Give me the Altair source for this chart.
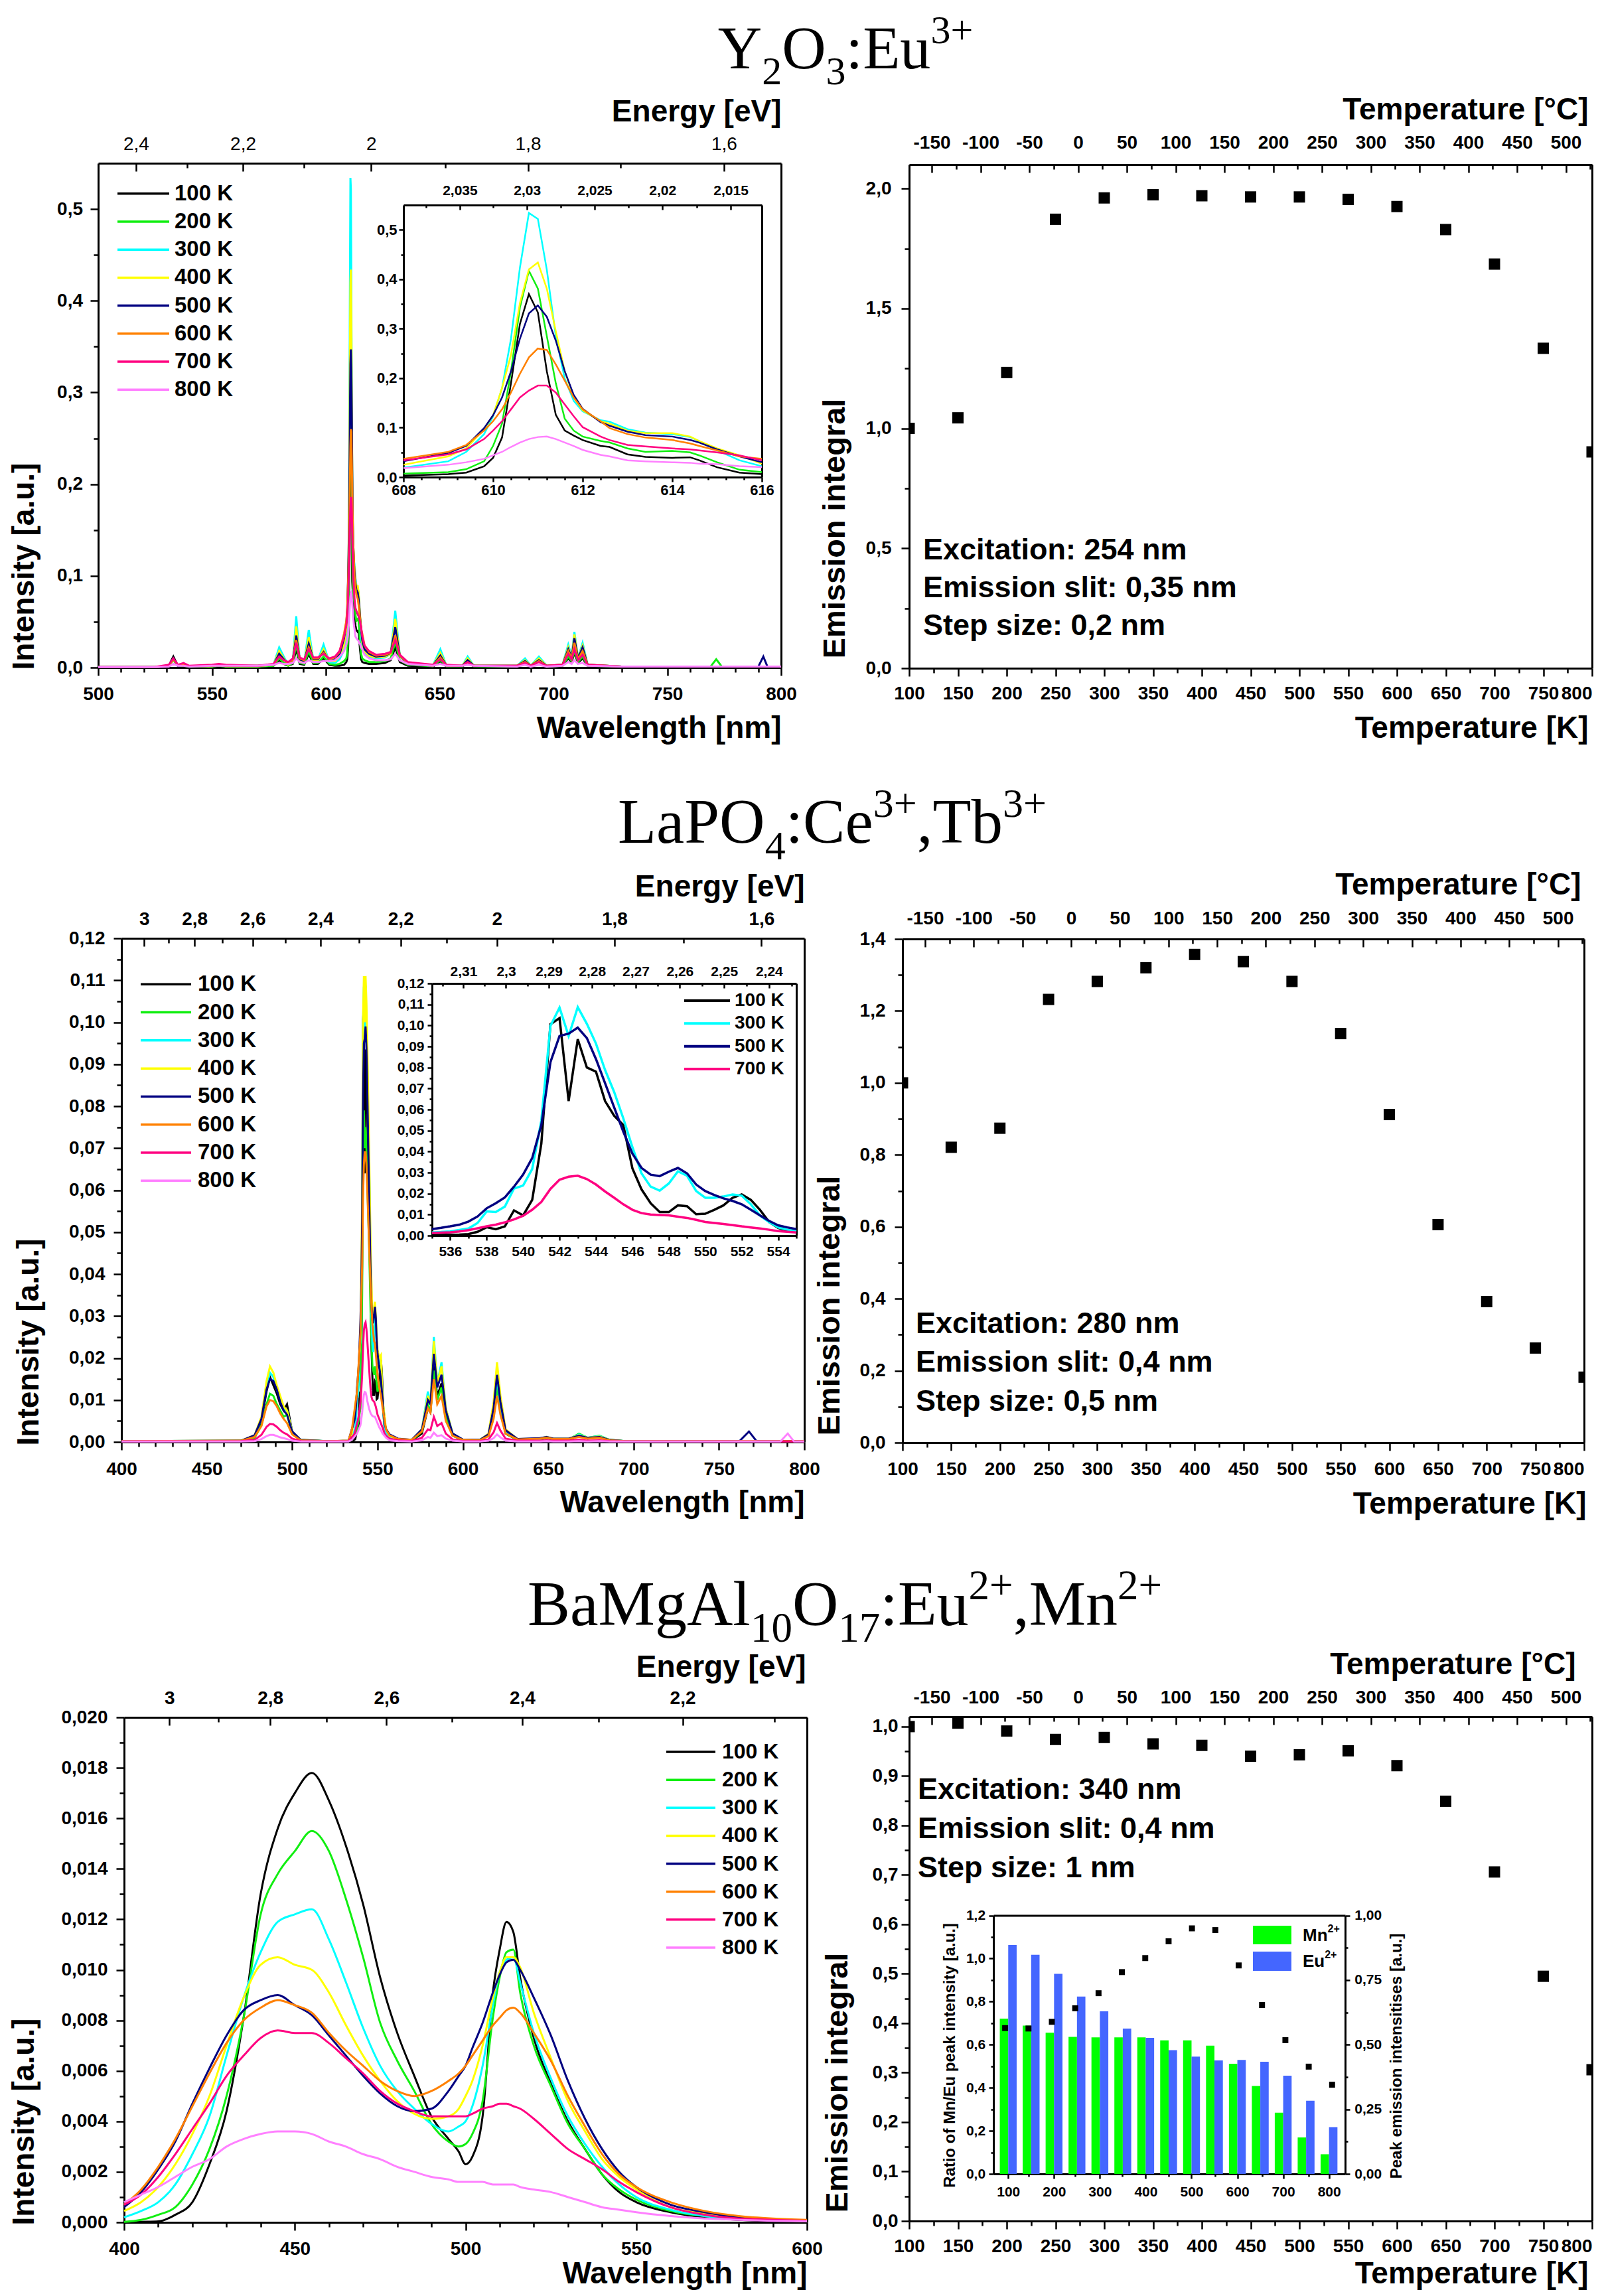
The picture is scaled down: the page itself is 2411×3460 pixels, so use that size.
import altair as alt
import pandas as pd

W, H = 2395, 3444
SANS = "Liberation Sans"
SERIF = "Liberation Serif"
HC = 1239.84
COMMA = "replace(datum.label, '.', ',')"

TEMPS = ["100 K", "200 K", "300 K", "400 K", "500 K", "600 K", "700 K", "800 K"]
COLORS = ["#000000", "#11ee11", "#00ffff", "#ffff00", "#000080", "#ff8000", "#ff0080", "#ff80ff"]
KELVIN = [100, 150, 200, 250, 300, 350, 400, 450, 500, 550, 600, 650, 700, 750, 800]

# ---------------- Y2O3:Eu3+ spectra ----------------
P1_WL_LEFT = [500, 525, 531, 533, 535, 537.5, 540, 550, 553, 556, 570, 577, 579.5, 581.5, 583.5, 585.5,
              587, 588.5, 590.5, 592.5, 594.5, 596.5, 599, 601.5, 604, 606]
P1_WL_INSET = [608, 609, 609.4, 609.8, 610, 610.2, 610.4, 610.6, 610.8, 611.0, 611.2, 611.4, 611.6, 611.8,
               612, 612.4, 612.6, 613, 613.4, 614, 614.4, 614.6, 615, 615.5, 616]
P1_WL_RIGHT = [617, 619, 622, 626, 628.5, 630.5, 632.5, 636, 647, 650.3, 653, 660, 662.3, 665, 684, 687.5,
               690, 693.6, 697, 704, 706.5, 708, 709.2, 710.8, 712.8, 715, 730, 769, 771.5, 774, 790, 792.2,
               794, 800]
P1_LEFT = {
    "100 K": [0.0005, 0.0005, 0.002, 0.012, 0.002, 0.002, 0.0008, 0.001, 0.002, 0.001, 0.001, 0.002, 0.008, 0.004, 0.002, 0.004, 0.020, 0.004, 0.003, 0.015, 0.004, 0.004, 0.010, 0.003, 0.002, 0.002],
    "200 K": [0.0005, 0.0005, 0.002, 0.008, 0.002, 0.002, 0.0008, 0.001, 0.002, 0.001, 0.001, 0.002, 0.010, 0.005, 0.002, 0.005, 0.025, 0.005, 0.004, 0.018, 0.005, 0.005, 0.012, 0.004, 0.003, 0.004],
    "300 K": [0.0005, 0.0005, 0.002, 0.009, 0.002, 0.003, 0.001, 0.0015, 0.003, 0.0015, 0.0015, 0.003, 0.022, 0.012, 0.003, 0.007, 0.056, 0.008, 0.006, 0.041, 0.008, 0.008, 0.025, 0.006, 0.005, 0.009],
    "400 K": [0.0005, 0.0005, 0.002, 0.009, 0.002, 0.003, 0.001, 0.0015, 0.003, 0.0015, 0.0015, 0.003, 0.018, 0.010, 0.003, 0.007, 0.045, 0.008, 0.006, 0.033, 0.008, 0.008, 0.020, 0.007, 0.007, 0.012],
    "500 K": [0.0005, 0.0005, 0.002, 0.010, 0.002, 0.003, 0.001, 0.002, 0.003, 0.002, 0.002, 0.003, 0.015, 0.009, 0.004, 0.008, 0.035, 0.009, 0.007, 0.026, 0.009, 0.009, 0.017, 0.008, 0.009, 0.014],
    "600 K": [0.0005, 0.0005, 0.002, 0.009, 0.003, 0.004, 0.0015, 0.002, 0.003, 0.002, 0.002, 0.003, 0.012, 0.008, 0.005, 0.008, 0.030, 0.010, 0.008, 0.022, 0.010, 0.010, 0.016, 0.009, 0.011, 0.017],
    "700 K": [0.0005, 0.0008, 0.003, 0.010, 0.003, 0.005, 0.002, 0.003, 0.004, 0.003, 0.002, 0.004, 0.012, 0.008, 0.006, 0.010, 0.027, 0.011, 0.009, 0.020, 0.011, 0.011, 0.015, 0.010, 0.012, 0.018],
    "800 K": [0.0005, 0.0005, 0.001, 0.004, 0.002, 0.002, 0.001, 0.002, 0.002, 0.002, 0.002, 0.003, 0.005, 0.004, 0.004, 0.005, 0.010, 0.006, 0.005, 0.008, 0.006, 0.006, 0.007, 0.007, 0.008, 0.012],
}
P1_INSET = {
    "100 K": [0.003, 0.006, 0.009, 0.022, 0.039, 0.080, 0.190, 0.310, 0.370, 0.333, 0.214, 0.126, 0.094, 0.084, 0.075, 0.063, 0.061, 0.046, 0.041, 0.039, 0.040, 0.034, 0.020, 0.009, 0.006],
    "200 K": [0.007, 0.010, 0.016, 0.032, 0.063, 0.108, 0.214, 0.343, 0.417, 0.381, 0.285, 0.190, 0.118, 0.094, 0.082, 0.073, 0.070, 0.058, 0.051, 0.053, 0.050, 0.044, 0.030, 0.015, 0.010],
    "300 K": [0.019, 0.032, 0.051, 0.087, 0.123, 0.180, 0.280, 0.424, 0.534, 0.522, 0.419, 0.285, 0.199, 0.154, 0.133, 0.115, 0.112, 0.097, 0.090, 0.087, 0.081, 0.073, 0.054, 0.034, 0.022],
    "400 K": [0.025, 0.042, 0.058, 0.097, 0.125, 0.180, 0.247, 0.352, 0.420, 0.434, 0.381, 0.295, 0.214, 0.161, 0.135, 0.113, 0.108, 0.094, 0.089, 0.089, 0.082, 0.073, 0.058, 0.044, 0.027],
    "500 K": [0.032, 0.049, 0.063, 0.099, 0.125, 0.161, 0.214, 0.280, 0.331, 0.347, 0.324, 0.276, 0.214, 0.166, 0.138, 0.111, 0.104, 0.092, 0.085, 0.082, 0.075, 0.070, 0.056, 0.042, 0.030],
    "600 K": [0.037, 0.051, 0.065, 0.094, 0.113, 0.137, 0.171, 0.209, 0.242, 0.260, 0.257, 0.228, 0.195, 0.161, 0.137, 0.113, 0.099, 0.087, 0.080, 0.075, 0.068, 0.063, 0.054, 0.042, 0.037],
    "700 K": [0.034, 0.046, 0.056, 0.077, 0.094, 0.113, 0.137, 0.161, 0.175, 0.185, 0.185, 0.171, 0.147, 0.123, 0.101, 0.082, 0.075, 0.065, 0.062, 0.058, 0.056, 0.054, 0.050, 0.044, 0.034],
    "800 K": [0.018, 0.025, 0.030, 0.037, 0.044, 0.051, 0.061, 0.070, 0.077, 0.081, 0.082, 0.077, 0.070, 0.063, 0.055, 0.045, 0.042, 0.034, 0.032, 0.030, 0.029, 0.027, 0.026, 0.022, 0.020],
}
P1_RIGHT = {
    "100 K": [0.005, 0.004, 0.004, 0.005, 0.008, 0.022, 0.006, 0.002, 0.001, 0.007, 0.001, 0.001, 0.006, 0.001, 0.001, 0.006, 0.001, 0.007, 0.001, 0.002, 0.010, 0.006, 0.016, 0.005, 0.010, 0.002, 0.001, 0.001, 0.001, 0.001, 0.001, 0.001, 0.001, 0.001],
    "200 K": [0.008, 0.006, 0.006, 0.007, 0.010, 0.028, 0.008, 0.003, 0.0015, 0.008, 0.0015, 0.0015, 0.006, 0.0015, 0.001, 0.007, 0.001, 0.007, 0.001, 0.002, 0.012, 0.007, 0.018, 0.006, 0.012, 0.002, 0.001, 0.001, 0.009, 0.001, 0.001, 0.001, 0.001, 0.001],
    "300 K": [0.016, 0.012, 0.010, 0.011, 0.015, 0.062, 0.013, 0.004, 0.002, 0.020, 0.002, 0.002, 0.012, 0.002, 0.002, 0.010, 0.002, 0.012, 0.002, 0.003, 0.025, 0.012, 0.039, 0.010, 0.027, 0.003, 0.001, 0.001, 0.001, 0.001, 0.001, 0.001, 0.001, 0.001],
    "400 K": [0.018, 0.013, 0.011, 0.012, 0.015, 0.053, 0.013, 0.004, 0.002, 0.016, 0.002, 0.002, 0.010, 0.002, 0.002, 0.008, 0.002, 0.010, 0.002, 0.003, 0.022, 0.011, 0.036, 0.010, 0.024, 0.003, 0.001, 0.001, 0.001, 0.001, 0.001, 0.001, 0.001, 0.001],
    "500 K": [0.020, 0.015, 0.012, 0.013, 0.016, 0.044, 0.013, 0.004, 0.002, 0.013, 0.002, 0.002, 0.008, 0.002, 0.002, 0.007, 0.002, 0.008, 0.002, 0.003, 0.020, 0.011, 0.032, 0.010, 0.022, 0.003, 0.001, 0.001, 0.001, 0.001, 0.001, 0.012, 0.001, 0.001],
    "600 K": [0.024, 0.017, 0.013, 0.014, 0.016, 0.035, 0.013, 0.005, 0.002, 0.011, 0.002, 0.002, 0.006, 0.002, 0.002, 0.006, 0.002, 0.007, 0.002, 0.003, 0.018, 0.010, 0.027, 0.009, 0.018, 0.003, 0.001, 0.001, 0.001, 0.001, 0.001, 0.001, 0.001, 0.001],
    "700 K": [0.024, 0.018, 0.014, 0.015, 0.017, 0.030, 0.014, 0.006, 0.003, 0.009, 0.003, 0.002, 0.006, 0.002, 0.002, 0.005, 0.002, 0.006, 0.002, 0.003, 0.015, 0.009, 0.020, 0.008, 0.014, 0.003, 0.001, 0.001, 0.001, 0.001, 0.001, 0.001, 0.001, 0.001],
    "800 K": [0.014, 0.010, 0.008, 0.008, 0.009, 0.015, 0.008, 0.004, 0.002, 0.004, 0.002, 0.002, 0.003, 0.002, 0.001, 0.003, 0.001, 0.003, 0.001, 0.002, 0.006, 0.004, 0.008, 0.004, 0.005, 0.002, 0.001, 0.001, 0.001, 0.001, 0.001, 0.001, 0.001, 0.001],
}

# ---------------- LaPO4:Ce3+,Tb3+ spectra ----------------
P2_WL_LEFT = [400, 470, 478, 482, 485, 487, 489, 491, 493, 495, 497, 500, 505, 520, 533]
P2_WL_MID = [535, 538, 540, 541, 541.5, 542, 542.5, 543, 543.5, 544, 545, 546, 547, 548, 548.5, 549, 550, 551, 552, 553, 555]
P2_WL_INSET = [535, 535.5, 536, 536.5, 537, 537.5, 538, 538.5, 539, 539.5, 540, 540.5, 541, 541.5, 542, 542.5,
               543, 543.5, 544, 544.5, 545, 545.5, 546, 546.5, 547, 547.5, 548, 548.5, 549, 549.5, 550, 550.5,
               551, 551.5, 552, 552.5, 553, 553.5, 554, 554.5, 555]
P2_WL_RIGHT = [557, 562, 570, 576, 579.5, 581, 583, 585, 587.5, 590, 594, 600, 610, 615, 618, 620, 622, 625, 632,
               645, 649, 653, 662, 668, 673, 680, 686, 695, 762, 767.6, 772, 786, 790.3, 794, 800]
P2_LEFT = {
    "100 K": [0.0002, 0.0002, 0.001, 0.005, 0.012, 0.0155, 0.0135, 0.0115, 0.009, 0.0075, 0.009, 0.0025, 0.0004, 0.0002, 0.0002],
    "200 K": [0.0002, 0.0002, 0.001, 0.004, 0.009, 0.0115, 0.011, 0.009, 0.0075, 0.006, 0.0065, 0.002, 0.0004, 0.0002, 0.0002],
    "300 K": [0.0002, 0.0003, 0.0015, 0.0055, 0.013, 0.0165, 0.0155, 0.0125, 0.010, 0.008, 0.0075, 0.0025, 0.0005, 0.0002, 0.0002],
    "400 K": [0.0002, 0.0003, 0.0016, 0.006, 0.0145, 0.018, 0.0165, 0.0135, 0.011, 0.0085, 0.0075, 0.0025, 0.0005, 0.0002, 0.0003],
    "500 K": [0.0002, 0.0003, 0.0016, 0.0055, 0.0125, 0.015, 0.0145, 0.0125, 0.0095, 0.0075, 0.0065, 0.0025, 0.0005, 0.0002, 0.0003],
    "600 K": [0.0002, 0.0003, 0.0012, 0.0038, 0.0085, 0.010, 0.0097, 0.0085, 0.0068, 0.0055, 0.0045, 0.0018, 0.0004, 0.0002, 0.0003],
    "700 K": [0.0001, 0.0002, 0.0005, 0.0017, 0.0036, 0.0043, 0.0042, 0.0036, 0.0028, 0.0022, 0.0018, 0.0008, 0.0002, 0.0001, 0.0002],
    "800 K": [0.0001, 0.0001, 0.0002, 0.0007, 0.0014, 0.0017, 0.0017, 0.0014, 0.0011, 0.0009, 0.0007, 0.0003, 0.0001, 0.0001, 0.0001],
}
P2_MID = {
    "200 K": [0.0005, 0.003, 0.008, 0.035, 0.070, 0.079, 0.070, 0.075, 0.070, 0.062, 0.048, 0.030, 0.018, 0.016, 0.018, 0.016, 0.012, 0.013, 0.015, 0.010, 0.002],
    "400 K": [0.002, 0.012, 0.025, 0.058, 0.100, 0.111, 0.100, 0.111, 0.105, 0.095, 0.072, 0.045, 0.030, 0.032, 0.0334, 0.030, 0.022, 0.020, 0.0207, 0.010, 0.003],
    "600 K": [0.003, 0.012, 0.026, 0.042, 0.058, 0.066, 0.069, 0.069, 0.066, 0.060, 0.048, 0.036, 0.028, 0.024, 0.0234, 0.021, 0.016, 0.013, 0.011, 0.008, 0.003],
    "800 K": [0.0005, 0.002, 0.004, 0.007, 0.0095, 0.0112, 0.0119, 0.0118, 0.011, 0.0098, 0.008, 0.0068, 0.0062, 0.006, 0.006, 0.0055, 0.0045, 0.0035, 0.0028, 0.002, 0.001],
}
P2_INSET = {
    "100 K": [0.0002, 0.0003, 0.0004, 0.0005, 0.0007, 0.0018, 0.004, 0.003, 0.0044, 0.012, 0.0096, 0.017, 0.0437, 0.1006, 0.1035, 0.064, 0.0935, 0.080, 0.078, 0.064, 0.057, 0.0526, 0.032, 0.022, 0.0154, 0.0112, 0.0112, 0.0144, 0.014, 0.0102, 0.0104, 0.0123, 0.0144, 0.018, 0.0196, 0.017, 0.0123, 0.0065, 0.0037, 0.0023, 0.0018],
    "300 K": [0.0015, 0.0017, 0.002, 0.0027, 0.0034, 0.006, 0.0115, 0.0112, 0.0138, 0.0224, 0.0238, 0.0317, 0.0547, 0.0998, 0.1085, 0.095, 0.1087, 0.1008, 0.0914, 0.0788, 0.0683, 0.0558, 0.0421, 0.0296, 0.0233, 0.0214, 0.0248, 0.0306, 0.0285, 0.0212, 0.018, 0.018, 0.0186, 0.0196, 0.019, 0.0149, 0.0096, 0.0065, 0.0039, 0.0028, 0.0021],
    "500 K": [0.0031, 0.0037, 0.0044, 0.0052, 0.0067, 0.0091, 0.013, 0.0154, 0.0182, 0.0233, 0.029, 0.0369, 0.0526, 0.0825, 0.095, 0.0961, 0.099, 0.094, 0.084, 0.0725, 0.061, 0.0495, 0.039, 0.0322, 0.029, 0.0283, 0.0304, 0.0322, 0.0296, 0.0243, 0.0212, 0.0193, 0.0177, 0.0165, 0.0149, 0.0123, 0.0096, 0.007, 0.0049, 0.0039, 0.0031],
    "700 K": [0.0012, 0.0014, 0.0016, 0.002, 0.0026, 0.0035, 0.0044, 0.0052, 0.0063, 0.0077, 0.0094, 0.0123, 0.016, 0.0222, 0.0266, 0.028, 0.0285, 0.0269, 0.0243, 0.021, 0.018, 0.0149, 0.0123, 0.0107, 0.010, 0.0098, 0.0096, 0.009, 0.0084, 0.0075, 0.0065, 0.006, 0.0055, 0.005, 0.0044, 0.0039, 0.0034, 0.0028, 0.0021, 0.0018, 0.0015],
}
P2_RIGHT = {
    "100 K": [0.001, 0.0004, 0.0003, 0.002, 0.008, 0.007, 0.018, 0.011, 0.014, 0.006, 0.0015, 0.0004, 0.0004, 0.0015, 0.007, 0.014, 0.008, 0.002, 0.0005, 0.0005, 0.001, 0.0005, 0.0005, 0.0015, 0.0008, 0.0012, 0.0004, 0.0002, 0.0002, 0.0002, 0.0002, 0.0002, 0.0002, 0.0002, 0.0002],
    "200 K": [0.001, 0.0004, 0.0003, 0.0025, 0.009, 0.007, 0.017, 0.010, 0.013, 0.006, 0.0015, 0.0004, 0.0004, 0.0015, 0.0065, 0.013, 0.0075, 0.002, 0.0005, 0.0006, 0.001, 0.0006, 0.0006, 0.002, 0.001, 0.0015, 0.0005, 0.0002, 0.0002, 0.0002, 0.0002, 0.0002, 0.0002, 0.0002, 0.0002],
    "300 K": [0.0012, 0.0005, 0.0004, 0.003, 0.012, 0.009, 0.025, 0.014, 0.019, 0.008, 0.002, 0.0005, 0.0005, 0.0018, 0.008, 0.015, 0.009, 0.0025, 0.0006, 0.0007, 0.0012, 0.0007, 0.0007, 0.0018, 0.001, 0.0014, 0.0005, 0.0002, 0.0002, 0.0002, 0.0002, 0.0002, 0.0002, 0.0002, 0.0002],
    "400 K": [0.0015, 0.0006, 0.0004, 0.003, 0.011, 0.009, 0.024, 0.014, 0.018, 0.008, 0.002, 0.0005, 0.0005, 0.002, 0.0095, 0.019, 0.011, 0.003, 0.0007, 0.0008, 0.0012, 0.0008, 0.0008, 0.0016, 0.001, 0.0013, 0.0005, 0.0002, 0.0002, 0.0002, 0.0002, 0.0002, 0.0002, 0.0002, 0.0002],
    "500 K": [0.0018, 0.0008, 0.0005, 0.003, 0.010, 0.009, 0.021, 0.013, 0.016, 0.0075, 0.002, 0.0006, 0.0005, 0.0018, 0.008, 0.016, 0.0095, 0.0028, 0.0007, 0.0009, 0.0012, 0.0008, 0.0008, 0.0015, 0.001, 0.0012, 0.0005, 0.0002, 0.0002, 0.0025, 0.0002, 0.0002, 0.0002, 0.0002, 0.0002],
    "600 K": [0.0016, 0.0007, 0.0005, 0.0025, 0.008, 0.007, 0.015, 0.009, 0.011, 0.005, 0.0015, 0.0005, 0.0004, 0.0014, 0.0055, 0.011, 0.0065, 0.002, 0.0006, 0.0008, 0.001, 0.0007, 0.0007, 0.0012, 0.0008, 0.001, 0.0004, 0.0002, 0.0002, 0.0002, 0.0002, 0.0002, 0.0002, 0.0002, 0.0002],
    "700 K": [0.0008, 0.0004, 0.0002, 0.001, 0.003, 0.0028, 0.006, 0.0038, 0.0045, 0.002, 0.0006, 0.0002, 0.0002, 0.0006, 0.0023, 0.0045, 0.0027, 0.0008, 0.0003, 0.0003, 0.0004, 0.0003, 0.0003, 0.0005, 0.0003, 0.0004, 0.0002, 0.0001, 0.0001, 0.0001, 0.0001, 0.0001, 0.0001, 0.0001, 0.0001],
    "800 K": [0.0004, 0.0002, 0.0001, 0.0004, 0.0012, 0.001, 0.0022, 0.0014, 0.0016, 0.0008, 0.0003, 0.0001, 0.0001, 0.0003, 0.0009, 0.0018, 0.0011, 0.0003, 0.0001, 0.0001, 0.0002, 0.0001, 0.0001, 0.0002, 0.0001, 0.0002, 0.0001, 0.0001, 0.0001, 0.0001, 0.0001, 0.0001, 0.002, 0.0001, 0.0001],
}

# ---------------- BaMgAl10O17:Eu2+,Mn2+ spectra ----------------
P3_WL = [400, 405, 410, 415, 420, 425, 430, 435, 440, 445, 450, 455, 460, 465, 470, 475, 480, 485, 490, 495,
         498, 500, 502, 505, 508, 510, 512, 514, 516, 520, 525, 530, 535, 540, 545, 550, 560, 570, 580, 590, 600]
P3 = {
    "100 K": [0.0, 0.00002, 0.00004, 0.0003, 0.0008, 0.0023, 0.0044, 0.0081, 0.0130, 0.0156, 0.0170, 0.0178, 0.0167, 0.0149, 0.0126, 0.0097, 0.0075, 0.0058, 0.0042, 0.0033, 0.0028, 0.0023, 0.0026, 0.0042, 0.0091, 0.0108, 0.0119, 0.0115, 0.0097, 0.0073, 0.0055, 0.0040, 0.0029, 0.0019, 0.0012, 0.0008, 0.0004, 0.0002, 0.0001, 0.00005, 0.00003],
    "200 K": [0.00002, 0.0001, 0.0003, 0.0006, 0.0015, 0.0029, 0.0050, 0.0081, 0.0122, 0.0138, 0.0147, 0.0155, 0.0147, 0.0128, 0.0105, 0.0079, 0.0064, 0.0052, 0.0039, 0.0032, 0.0030, 0.0031, 0.0035, 0.0048, 0.0081, 0.0097, 0.0107, 0.0108, 0.0091, 0.0070, 0.0054, 0.0039, 0.0029, 0.0019, 0.0013, 0.0009, 0.00045, 0.00025, 0.00015, 0.0001, 0.00005],
    "300 K": [0.0002, 0.00045, 0.0008, 0.0015, 0.0027, 0.0042, 0.0066, 0.0089, 0.0107, 0.0119, 0.0122, 0.0124, 0.0112, 0.0095, 0.0077, 0.0062, 0.0052, 0.0045, 0.0039, 0.0036, 0.0038, 0.0040, 0.0046, 0.0062, 0.0086, 0.0099, 0.0104, 0.0105, 0.0095, 0.0075, 0.0057, 0.0042, 0.0031, 0.0022, 0.0015, 0.0010, 0.0005, 0.00025, 0.00015, 0.0001, 0.00005],
    "400 K": [0.00045, 0.0008, 0.0014, 0.0023, 0.0035, 0.0050, 0.0070, 0.0089, 0.0102, 0.0105, 0.0102, 0.0100, 0.0091, 0.0078, 0.0066, 0.0056, 0.0048, 0.0043, 0.0041, 0.0042, 0.0045, 0.0050, 0.0056, 0.0070, 0.0089, 0.0099, 0.0105, 0.0105, 0.0101, 0.0083, 0.0065, 0.0048, 0.0036, 0.0025, 0.0018, 0.0013, 0.0006, 0.00035, 0.0002, 0.0001, 0.00005],
    "500 K": [0.0006, 0.0012, 0.0021, 0.0032, 0.0047, 0.0061, 0.0074, 0.0084, 0.0088, 0.0090, 0.0086, 0.0082, 0.0074, 0.0066, 0.0058, 0.0051, 0.0046, 0.0044, 0.0045, 0.0052, 0.0058, 0.0062, 0.0069, 0.0079, 0.0091, 0.0098, 0.0103, 0.0104, 0.0100, 0.0089, 0.0074, 0.0056, 0.0041, 0.0029, 0.0020, 0.0014, 0.0007, 0.0004, 0.0002, 0.0001, 0.00008],
    "600 K": [0.0007, 0.0013, 0.0022, 0.0033, 0.0046, 0.0059, 0.0071, 0.0080, 0.0085, 0.0088, 0.0086, 0.0083, 0.0075, 0.0068, 0.0062, 0.0056, 0.0052, 0.0050, 0.0052, 0.0056, 0.0059, 0.0062, 0.0066, 0.0072, 0.0078, 0.0081, 0.0084, 0.0085, 0.0083, 0.0075, 0.0064, 0.0050, 0.0038, 0.0027, 0.0019, 0.0014, 0.0008, 0.00045, 0.00025, 0.00015, 0.0001],
    "700 K": [0.0007, 0.0011, 0.0018, 0.0027, 0.0037, 0.0047, 0.0058, 0.0066, 0.0073, 0.0076, 0.0075, 0.0075, 0.0071, 0.0065, 0.0059, 0.0052, 0.0047, 0.0044, 0.0042, 0.0042, 0.0042, 0.0042, 0.0043, 0.0045, 0.0046, 0.0047, 0.0047, 0.0046, 0.0045, 0.0041, 0.0035, 0.0029, 0.0025, 0.0021, 0.0016, 0.0012, 0.0006, 0.0003, 0.00015, 0.0001, 0.00006],
    "800 K": [0.0008, 0.0011, 0.0014, 0.0018, 0.0022, 0.0025, 0.0030, 0.0033, 0.0035, 0.0036, 0.0036, 0.0035, 0.0032, 0.0030, 0.0027, 0.0025, 0.0022, 0.0020, 0.0018, 0.0017, 0.0016, 0.0016, 0.0016, 0.0016, 0.0015, 0.0015, 0.0015, 0.0015, 0.0014, 0.0013, 0.0012, 0.0010, 0.0008, 0.0006, 0.0005, 0.0004, 0.00025, 0.00015, 0.0001, 0.00006, 0.00004],
}

# ---------------- emission integrals ----------------
R1_INTEGRAL = [1.0, 1.044, 1.233, 1.872, 1.961, 1.974, 1.970, 1.965, 1.965, 1.955, 1.925, 1.829, 1.685, 1.334, 0.902]
R2_INTEGRAL = [1.0, 0.821, 0.874, 1.232, 1.282, 1.320, 1.357, 1.337, 1.282, 1.137, 0.912, 0.606, 0.392, 0.263, 0.182]
R3_INTEGRAL = [1.0, 1.007, 0.991, 0.974, 0.978, 0.965, 0.962, 0.940, 0.943, 0.951, 0.921, 0.849, 0.706, 0.495, 0.306]
MN_PEAK = [0.601, 0.574, 0.546, 0.530, 0.528, 0.528, 0.528, 0.517, 0.517, 0.496, 0.426, 0.340, 0.237, 0.141, 0.076]
EU_PEAK = [0.886, 0.848, 0.774, 0.686, 0.629, 0.562, 0.526, 0.479, 0.454, 0.439, 0.441, 0.434, 0.380, 0.283, 0.181]
MN_EU_RATIO = [0.677, 0.675, 0.706, 0.769, 0.839, 0.937, 1.002, 1.080, 1.140, 1.132, 0.968, 0.784, 0.621, 0.498, 0.414]

NOTES1 = ["Excitation: 254 nm", "Emission slit: 0,35 nm", "Step size: 0,2 nm"]
NOTES2 = ["Excitation: 280 nm", "Emission slit: 0,4 nm", "Step size: 0,5 nm"]
NOTES3 = ["Excitation: 340 nm", "Emission slit: 0,4 nm", "Step size: 1 nm"]


# ---------------- helpers ----------------
def long_df(parts):
    rows = []
    for T, wls, vals in parts:
        assert len(wls) == len(vals), (T, len(wls), len(vals))
        for w, v in zip(wls, vals):
            rows.append({"T": T, "wl": w, "v": v})
    return pd.DataFrame(rows)


def rng(a, b, step, nd=4):
    n = int(round((b - a) / step))
    return [round(a + i * step, nd) for i in range(n + 1)]


def minors(a, b, step, major):
    return [v for v in rng(a, b, step) if not any(abs(v - m) < 1e-6 for m in major)]


def sc(domain, r):
    return alt.Scale(domain=domain, range=r, nice=False, zero=False)


def esc(lo_nm, hi_nm, r):
    return alt.Scale(type="pow", exponent=-1, domain=[HC / lo_nm, HC / hi_nm], range=r, nice=False, zero=False)


CSCALE = alt.Scale(domain=TEMPS, range=COLORS)
# edge points of the temperature panels are cut by the frame, as in the original
SHAPES = alt.Scale(domain=["full", "right", "left"],
                   range=["square", "M0,-1H1V1H0Z", "M-1,-1H0V1H-1Z"])
LAST_RIGHT = {"condition": {"test": "datum.value >= 800", "value": "right"}, "value": "center"}


def AX(orient, offset, values=None, fmt=None, expr=COMMA, size=28, weight="bold", tick=12, pad=10,
       labels=True, ticks=True, domain=False, baseline=None, **extra):
    kw = dict(orient=orient, offset=offset, grid=False, labels=labels, ticks=ticks, domain=domain,
              tickSize=tick, tickWidth=2.5, tickColor="black", domainColor="black", domainWidth=3,
              title=None)
    if labels:
        kw.update(labelFont=SANS, labelFontSize=size, labelFontWeight=weight, labelColor="black",
                  labelPadding=pad, labelFlush=False, labelOverlap=False, labelBound=False)
        if fmt:
            kw["format"] = fmt
        if expr:
            kw["labelExpr"] = expr
        if baseline:
            kw["labelBaseline"] = baseline
    if values is not None:
        kw["values"] = values
    kw.update(extra)
    return alt.Axis(**kw)


def TT(text, x, y, angle=0, align="right", baseline="alphabetic", size=46):
    return dict(title=text, titleFont=SANS, titleFontSize=size, titleFontWeight="bold", titleColor="black",
                titleX=x, titleY=y, titleAngle=angle, titleAlign=align, titleBaseline=baseline)


def ghost(xv, xs, xaxis, yv, ys, yaxis):
    df = pd.DataFrame({"gx": [xv], "gy": [yv]})
    return alt.Chart(df).mark_point(opacity=0, size=1).encode(
        x=alt.X("gx:Q", scale=xs, axis=xaxis), y=alt.Y("gy:Q", scale=ys, axis=yaxis))


def lines(df, xs, ys, xaxis, yaxis, sw, interp="linear"):
    return alt.Chart(df).mark_line(strokeWidth=sw, interpolate=interp).encode(
        x=alt.X("wl:Q", scale=xs, axis=xaxis), y=alt.Y("v:Q", scale=ys, axis=yaxis),
        color=alt.Color("T:N", scale=CSCALE, legend=None))


def legend(temps, x0, x1, xt, ytop, ybot, size, sw):
    df = pd.DataFrame({"T": temps})
    ysc = alt.Scale(type="point", domain=temps, range=[ytop, ybot], padding=0)
    r = alt.Chart(df).mark_rule(strokeWidth=sw).encode(
        x=alt.value(x0), x2=alt.value(x1), y=alt.Y("T:N", scale=ysc, axis=None),
        color=alt.Color("T:N", scale=CSCALE, legend=None))
    t = alt.Chart(df).mark_text(align="left", baseline="middle", font=SANS, fontSize=size,
                                fontWeight="bold", color="black").encode(
        x=alt.value(xt), y=alt.Y("T:N", scale=ysc, axis=None), text="T:N")
    return [r, t]


def notes(lines_, x, ytop, ybot):
    df = pd.DataFrame({"i": [0, 1, 2], "t": lines_})
    return alt.Chart(df).mark_text(align="left", baseline="alphabetic", font=SANS, fontSize=45,
                                   fontWeight="bold", color="black").encode(
        x=alt.value(x),
        y=alt.Y("i:O", scale=alt.Scale(type="point", domain=[0, 1, 2], range=[ytop, ybot], padding=0), axis=None),
        text="t:N")


ONE = pd.DataFrame({"a": [0]})


def txt(s, x, y, size, font=SANS, weight="bold"):
    return alt.Chart(ONE).mark_text(align="left", baseline="alphabetic", font=font, fontSize=size,
                                    fontWeight=weight, color="black").encode(
        x=alt.value(x), y=alt.value(y), text=alt.value(s))


TW = {"Y": .722, "O": .722, "E": .611, "u": .5, ":": .278, "L": .611, "a": .444, "P": .556, "C": .667,
      "e": .444, ",": .25, "T": .611, "b": .5, "B": .667, "M": .889, "g": .5, "A": .722, "l": .278,
      "n": .5, "+": .564}


def segw(s, size):
    return sum(TW.get(c, 0.5) for c in s) * size


def title(segs, cx, base, N, S):
    total = sum(segw(t, N if k == "n" else S) for t, k in segs)
    x = cx - total / 2
    out = []
    for t, k in segs:
        size = N if k == "n" else S
        dy = 0 if k == "n" else (0.26 * N if k == "sub" else -0.41 * N)
        out.append(txt(t, x, base + dy, size, font=SERIF, weight="normal"))
        x += segw(t, size)
    return out


layers = []

# ======== Titles ========
layers += title([("Y", "n"), ("2", "sub"), ("O", "n"), ("3", "sub"), (":Eu", "n"), ("3+", "sup")], 1266, 95, 92, 60)
layers += title([("LaPO", "n"), ("4", "sub"), (":Ce", "n"), ("3+", "sup"), (",Tb", "n"), ("3+", "sup")], 1246, 1262, 95, 62)
layers += title([("BaMgAl", "n"), ("10", "sub"), ("O", "n"), ("17", "sub"), (":Eu", "n"), ("2+", "sup"),
                 (",Mn", "n"), ("2+", "sup")], 1265, 2441, 96, 63)

# ======== Panel 1 main ========
df_p1 = long_df([(T, P1_WL_LEFT + P1_WL_INSET + P1_WL_RIGHT, P1_LEFT[T] + P1_INSET[T] + P1_RIGHT[T]) for T in TEMPS])
xs1 = sc([500, 800], [140, 1169]); ys1 = sc([0, 0.55], [998, 238]); es1 = esc(500, 800, [140, 1169])
maj = rng(500, 800, 50)
layers += [
    lines(df_p1, xs1, ys1,
          AX("bottom", 998 - H, values=maj, fmt="d", pad=14, domain=True, **TT("Wavelength [nm]", 1169, 105)),
          AX("left", -140, values=rng(0, 0.5, 0.1), fmt=".1f", pad=11.5, domain=True,
             **TT("Intensity [a.u.]", 28 - 140, 845, angle=270, align="center", baseline="middle")), 3),
    ghost(550, xs1, AX("bottom", 998 - H, values=minors(510, 790, 10, maj), labels=False, tick=7),
          0.1, ys1, AX("left", -140, values=rng(0.05, 0.45, 0.1), labels=False, tick=7)),
    ghost(2.0, es1, AX("bottom", 238 - H, values=[2.4, 2.2, 2.0, 1.8, 1.6], fmt=".1~f", weight="normal", pad=-33,
                       baseline="alphabetic", domain=True, **TT("Energy [eV]", 1169, -64)),
          0.1, ys1, AX("right", 1169 - W, labels=False, ticks=False, domain=True)),
    ghost(2.0, es1, AX("bottom", 238 - H, values=[2.3, 2.1, 1.9, 1.7], labels=False, tick=7), 0.1, ys1, None),
]
layers += legend(TEMPS, 169, 247, 255, 283.7, 579.3, 33, 3.5)

# ======== Panel 1 inset ========
df_p1i = long_df([(T, P1_WL_INSET, P1_INSET[T]) for T in TEMPS])
xi1 = sc([608, 616], [600, 1140]); yi1 = sc([0, 0.55], [711, 301]); ei1 = esc(608, 616, [600, 1140])
maj = rng(608, 616, 2)
layers += [
    lines(df_p1i, xi1, yi1,
          AX("bottom", 711 - H, values=maj, fmt="d", size=22, tick=7, pad=2.5, domain=True),
          AX("left", -600, values=rng(0, 0.5, 0.1), fmt=".1f", size=22, tick=7, pad=3, domain=True), 2.5),
    ghost(610, xi1, AX("bottom", 711 - H, values=minors(608.4, 615.6, 0.4, maj), labels=False, tick=4),
          0.1, yi1, AX("left", -600, values=rng(0.05, 0.45, 0.1), labels=False, tick=4)),
    ghost(2.03, ei1, AX("bottom", 301 - H, values=[2.035, 2.03, 2.025, 2.02, 2.015], fmt=".3~f", size=21, tick=7,
                        pad=-23, baseline="alphabetic", domain=True),
          0.1, yi1, AX("right", 1140 - W, labels=False, ticks=False, domain=True)),
    ghost(2.03, ei1, AX("bottom", 301 - H, values=[2.0375, 2.0325, 2.0275, 2.0225, 2.0175], labels=False, tick=4),
          0.1, yi1, None),
]

# ======== Panel 2 main ========
INSET_T = ["100 K", "300 K", "500 K", "700 K"]
parts = []
for T in TEMPS:
    if T in P2_INSET:
        parts.append((T, P2_WL_LEFT + P2_WL_INSET + P2_WL_RIGHT, P2_LEFT[T] + P2_INSET[T] + P2_RIGHT[T]))
    else:
        parts.append((T, P2_WL_LEFT + P2_WL_MID + P2_WL_RIGHT, P2_LEFT[T] + P2_MID[T] + P2_RIGHT[T]))
df_p2 = long_df(parts)
xs2 = sc([400, 800], [175, 1204]); ys2 = sc([0, 0.12], [2165, 1406]); es2 = esc(400, 800, [175, 1204])
maj = rng(400, 800, 50)
layers += [
    lines(df_p2, xs2, ys2,
          AX("bottom", 2165 - H, values=maj, fmt="d", pad=15.6, domain=True, **TT("Wavelength [nm]", 1204, 105)),
          AX("left", -175, values=rng(0, 0.12, 0.01), fmt=".2f", pad=13, domain=True,
             **TT("Intensity [a.u.]", 35 - 175, 2014, angle=270, align="center", baseline="middle")), 3),
    ghost(550, xs2, AX("bottom", 2165 - H, values=minors(410, 790, 10, maj), labels=False, tick=7),
          0.05, ys2, AX("left", -175, values=rng(0.005, 0.115, 0.01), labels=False, tick=7)),
    ghost(2.0, es2, AX("bottom", 1406 - H, values=[3.0, 2.8, 2.6, 2.4, 2.2, 2.0, 1.8, 1.6], fmt=".1~f", pad=-33,
                       baseline="alphabetic", domain=True, **TT("Energy [eV]", 1204, -64)),
          0.05, ys2, AX("right", 1204 - W, labels=False, ticks=False, domain=True)),
    ghost(2.0, es2, AX("bottom", 1406 - H, values=[2.9, 2.7, 2.5, 2.3, 2.1, 1.9, 1.7], labels=False, tick=7),
          0.05, ys2, None),
]
layers += legend(TEMPS, 204, 280, 290, 1475.3, 1771.3, 33, 3.5)

# ======== Panel 2 inset ========
df_p2i = long_df([(T, P2_WL_INSET, P2_INSET[T]) for T in INSET_T])
xi2 = sc([535, 555], [643, 1192]); yi2 = sc([0, 0.12], [1854, 1474]); ei2 = esc(535, 555, [643, 1192])
maj = rng(536, 554, 2)
layers += [
    lines(df_p2i, xi2, yi2,
          AX("bottom", 1854 - H, values=maj, fmt="d", size=21, tick=7, pad=6, domain=True),
          AX("left", -643, values=rng(0, 0.12, 0.01), fmt=".2f", size=21, tick=7, pad=5, domain=True), 3.5),
    ghost(545, xi2, AX("bottom", 1854 - H, values=rng(535, 555, 2), labels=False, tick=4),
          0.05, yi2, AX("left", -643, values=rng(0.005, 0.115, 0.01), labels=False, tick=4)),
    ghost(2.28, ei2, AX("bottom", 1474 - H, values=[2.31, 2.30, 2.29, 2.28, 2.27, 2.26, 2.25, 2.24], fmt=".2~f",
                        size=21, tick=7, pad=-19, baseline="alphabetic", domain=True),
          0.05, yi2, AX("right", 1192 - W, labels=False, ticks=False, domain=True)),
    ghost(2.28, ei2, AX("bottom", 1474 - H, values=[2.315, 2.305, 2.295, 2.285, 2.275, 2.265, 2.255, 2.245, 2.235],
                        labels=False, tick=4), 0.05, yi2, None),
]
layers += legend(INSET_T, 1023, 1092, 1099, 1500, 1603, 28, 4)

# ======== Panel 3 main ========
df_p3 = long_df([(T, P3_WL, P3[T]) for T in TEMPS])
xs3 = sc([400, 600], [179, 1208]); ys3 = sc([0, 0.02], [3341, 2580]); es3 = esc(400, 600, [179, 1208])
maj = rng(400, 600, 50)
layers += [
    lines(df_p3, xs3, ys3,
          AX("bottom", 3341 - H, values=maj, fmt="d", pad=14, domain=True, **TT("Wavelength [nm]", 1208, 91)),
          AX("left", -179, values=rng(0, 0.02, 0.002), fmt=".3f", pad=13, domain=True,
             **TT("Intensity [a.u.]", 28 - 179, 3189, angle=270, align="center", baseline="middle")), 3, "monotone"),
    ghost(500, xs3, AX("bottom", 3341 - H, values=minors(410, 590, 10, maj), labels=False, tick=7),
          0.01, ys3, AX("left", -179, values=rng(0.001, 0.019, 0.002), labels=False, tick=7)),
    ghost(2.5, es3, AX("bottom", 2580 - H, values=[3.0, 2.8, 2.6, 2.4, 2.2], fmt=".1~f", pad=-33,
                       baseline="alphabetic", domain=True, **TT("Energy [eV]", 1206, -62)),
          0.01, ys3, AX("right", 1208 - W, labels=False, ticks=False, domain=True)),
    ghost(2.5, es3, AX("bottom", 2580 - H, values=[2.9, 2.7, 2.5, 2.3, 2.1], labels=False, tick=7), 0.01, ys3, None),
]
layers += legend(TEMPS, 996, 1070, 1080, 2632, 2927, 32, 3.5)


# ======== Right panels ========
def right_panel(vals, x0, x1, ytop, ybot, ymax, ymaj, ymin, lpad, bpad, tpad, lt, bt, tt, note_lines, nx, ny):
    xs = sc([100, 800], [x0, x1]); ys = sc([0, ymax], [ybot, ytop])
    cs = sc([100 - 273.15, 800 - 273.15], [x0, x1])
    df = pd.DataFrame({"K": KELVIN, "v": vals})
    df["s"] = ["right" if k == KELVIN[0] else ("left" if k == KELVIN[-1] else "full") for k in KELVIN]
    return [
        alt.Chart(df).mark_point(size=289, filled=True, color="black", opacity=1, strokeWidth=0).encode(
            x=alt.X("K:Q", scale=xs, axis=AX("bottom", ybot - H, values=rng(100, 800, 50), fmt="d", pad=bpad,
                                             domain=True, labelAlign=LAST_RIGHT,
                                             **TT("Temperature [K]", bt[0], bt[1]))),
            y=alt.Y("v:Q", scale=ys, axis=AX("left", -x0, values=ymaj, fmt=".1f", pad=lpad, domain=True,
                                             **TT("Emission integral", lt[0] - x0, lt[1], angle=270,
                                                  align="center", baseline="middle", size=47))),
            shape=alt.Shape("s:N", scale=SHAPES, legend=None)),
        ghost(400, xs, AX("bottom", ybot - H, values=rng(125, 775, 50), labels=False, tick=7),
              0.5, ys, AX("left", -x0, values=ymin, labels=False, tick=7)),
        ghost(0, cs, AX("bottom", ytop - H, values=rng(-150, 500, 50), expr="'' + datum.value", pad=tpad,
                        baseline="alphabetic", domain=True, **TT("Temperature [°C]", tt[0], tt[1])),
              0.5, ys, AX("right", x1 - W, labels=False, ticks=False, domain=True)),
        ghost(0, cs, AX("bottom", ytop - H, values=rng(-125, 525, 50), labels=False, tick=7), 0.5, ys, None),
        notes(note_lines, nx, ny[0], ny[1]),
    ]


layers += right_panel(R1_INTEGRAL, 1362, 2391, 240, 999, 2.1, [0, 0.5, 1.0, 1.5, 2.0], [0.25, 0.75, 1.25, 1.75],
                      15, 12.9, -37, (1250, 788), (2385, 104), (2385, -69), NOTES1, 1383, (835, 949))
layers += right_panel(R2_INTEGRAL, 1352, 2379, 1407, 2166, 1.4, rng(0, 1.4, 0.2), rng(0.1, 1.3, 0.2),
                      14, 14.6, -35, (1242, 1959), (2382, 106), (2374, -68), NOTES2, 1372, (2001, 2117.5))
layers += right_panel(R3_INTEGRAL, 1362, 2391, 2579, 3339, 1.02, rng(0, 1.0, 0.1), rng(0.05, 0.95, 0.1),
                      5, 12.5, -33, (1254, 3130), (2385, 93), (2366, -65), NOTES3, 1375, (2702.5, 2820.8))

# ======== Bar inset (panel 3 right) ========
df_b = pd.DataFrame({"K": KELVIN, "mn": MN_PEAK, "eu": EU_PEAK, "r": MN_EU_RATIO})
xb = sc([75, 828], [1489, 2019]); ybl = sc([0, 1.2], [3268, 2878.5]); ybr = sc([0, 1.0], [3268, 2878.5])
layers += [
    alt.Chart(df_b).mark_bar(orient="vertical", size=12.7, xOffset=-6.35, color="#00ff00").encode(
        x=alt.X("K:Q", scale=xb, axis=AX("bottom", 3268 - H, values=rng(100, 800, 100), fmt="d", size=21, tick=7,
                                         pad=9.6, domain=True)),
        y=alt.Y("mn:Q", scale=ybr, axis=AX("right", 2019 - W, values=[0, 0.25, 0.5, 0.75, 1.0], fmt=".2f", size=21,
                                           tick=7, pad=6.7, domain=True,
                                           **TT("Peak emission intensitises [a.u.]", 2096.5 - 2019, 3090, angle=270,
                                                align="center", baseline="middle", size=24)))),
    alt.Chart(df_b).mark_bar(orient="vertical", size=12.7, xOffset=6.35, color="#4466ff").encode(
        x=alt.X("K:Q", scale=xb, axis=None), y=alt.Y("eu:Q", scale=ybr, axis=None)),
    alt.Chart(df_b).mark_square(size=80, color="black", opacity=1).encode(
        x=alt.X("K:Q", scale=xb, axis=AX("top", -2878.5, labels=False, ticks=False, domain=True)),
        y=alt.Y("r:Q", scale=ybl, axis=AX("left", -1489, values=rng(0, 1.2, 0.2), fmt=".1f", size=21, tick=7,
                                          pad=5.4, domain=True,
                                          **TT("Ratio of Mn/Eu peak intensity [a.u.]", 1423 - 1489, 3089, angle=270,
                                               align="center", baseline="middle", size=24)))),
    ghost(400, xb, AX("bottom", 3268 - H, values=rng(150, 750, 100), labels=False, tick=4),
          0.5, ybl, AX("left", -1489, values=rng(0.1, 1.1, 0.2), labels=False, tick=4)),
    ghost(400, xb, None, 0.5, ybr, AX("right", 2019 - W, values=[0.125, 0.375, 0.625, 0.875], labels=False, tick=4)),
    alt.Chart(ONE).mark_rect(color="#00ff00").encode(
        x=alt.value(1880), x2=alt.value(1938), y=alt.value(2894), y2=alt.value(2922)),
    alt.Chart(ONE).mark_rect(color="#4466ff").encode(
        x=alt.value(1880), x2=alt.value(1938), y=alt.value(2933), y2=alt.value(2962)),
    txt("Mn", 1955, 2917, 26), txt("2+", 1955 + 37.5, 2904, 16),
    txt("Eu", 1955, 2956, 26), txt("2+", 1955 + 33.2, 2943, 16),
]

chart = alt.layer(*layers).resolve_scale(
    x="independent", y="independent", color="independent", shape="independent"
).properties(
    width=W, height=H, autosize=alt.AutoSizeParams(type="none"), padding=0, background="white"
).configure_view(strokeWidth=0)

chart.save("out.html", embed_options={"renderer": "svg", "actions": False})
